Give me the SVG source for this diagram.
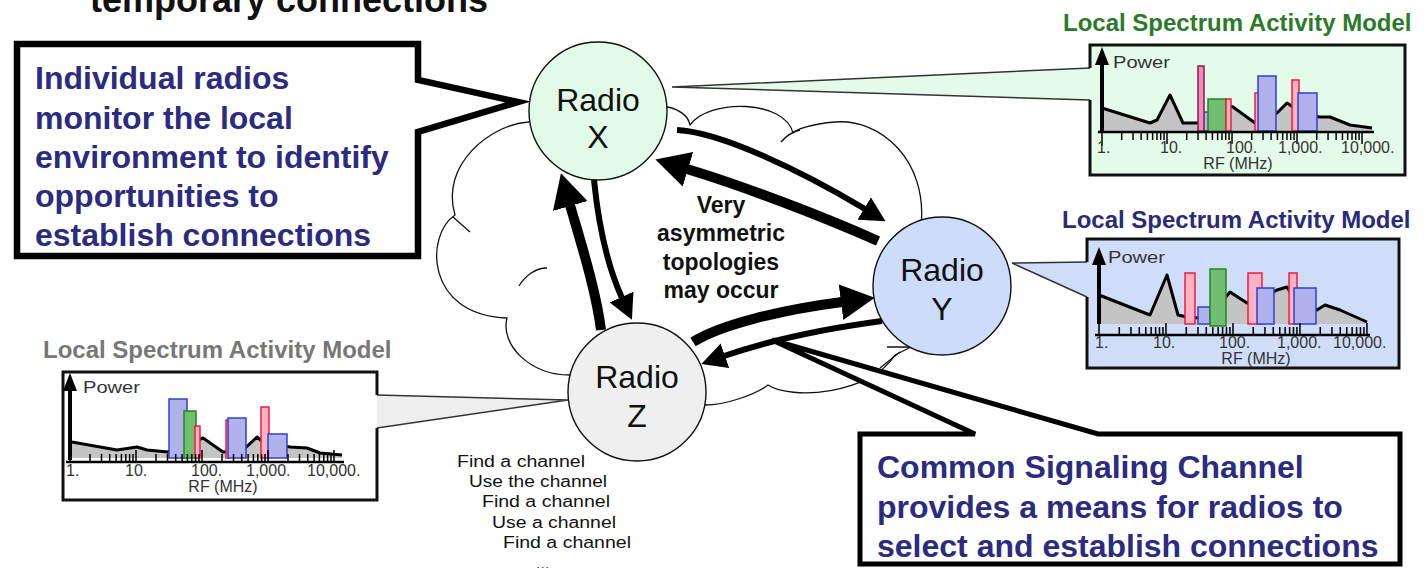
<svg xmlns="http://www.w3.org/2000/svg" xmlns:xlink="http://www.w3.org/1999/xlink" width="1427" height="568" viewBox="0 0 1427 568">
  <style>
    text { font-family: "Liberation Sans", Arial, sans-serif; }
    .title { font-size: 36px; font-weight: bold; fill: #111; }
    .callout-box { fill: #fff; stroke: #000; stroke-linejoin: miter; }
    .callout-text { font-size: 32px; font-weight: bold; fill: #2b2b80; }
    .node-label { font-size: 32px; fill: #111; text-anchor: middle; }
    .node-circle { stroke: #111; stroke-width: 1.4; }
    .cloud { fill: #fff; stroke: #111; stroke-width: 1.3; stroke-linejoin: round; }
    .hook { fill: none; stroke: #111; stroke-width: 1.3; }
    .note { font-size: 23px; font-weight: bold; fill: #111; text-anchor: middle; }
    .steps { font-size: 16px; fill: #111; }
    .panel-title { font-size: 24px; font-weight: bold; }
    .panel-border { fill: none; stroke: #111; stroke-width: 3; }
    .pointer { fill: none; stroke: #333; stroke-width: 1.5; }
    .spectrum { fill: #c4c4c4; stroke: none; }
    .spectrum-line { fill: none; stroke: #000; stroke-width: 3; stroke-linejoin: round; }
    .yaxis { stroke: #000; stroke-width: 4; }
    .xaxis { stroke: #000; stroke-width: 2.5; }
    .axis-label { font-size: 16px; fill: #333; }
    .rf { font-size: 16px; fill: #333; text-anchor: middle; }
    .power { font-size: 16px; fill: #333; }
    .bb { fill: #b1b1ec; stroke: #3040d0; stroke-width: 1.5; }
    .bg { fill: #72bd72; stroke: #1c8a1c; stroke-width: 1.5; }
    .br { fill: #ffb3c2; stroke: #f01c3c; stroke-width: 1.5; }
    .bp { fill: #f08cbc; stroke: #8a1a4a; stroke-width: 1.5; }
    .link-thick { fill: none; stroke: #000; stroke-width: 10; }
    .link-thin { fill: none; stroke: #000; stroke-width: 6; }
  </style>
  <defs>
    <!-- log-scale tick marks, one decade = 66 units -->
    <path id="ticks" fill="none" stroke="#000" stroke-width="1.5"
      d="M0,0v14M66,0v12M132,0v12M198,0v12M264,0v12
         M20,0v8M31.5,0v8M39.7,0v8M46.1,0v8M51.4,0v8M55.8,0v8M59.6,0v8M63,0v8
         M86,0v8M97.5,0v8M105.7,0v8M112.1,0v8M117.4,0v8M121.8,0v8M125.6,0v8M129,0v8
         M152,0v8M163.5,0v8M171.7,0v8M178.1,0v8M183.4,0v8M187.8,0v8M191.6,0v8M195,0v8
         M218,0v8M229.5,0v8M237.7,0v8M244.1,0v8M249.4,0v8M253.8,0v8M257.6,0v8M261,0v8"/>
    <marker id="head-big" markerUnits="userSpaceOnUse" viewBox="0 0 34 36" refX="1" refY="18" markerWidth="34" markerHeight="36" orient="auto">
      <path d="M0,0 L34,18 L0,36 Z" fill="#000"/>
    </marker>
    <marker id="head-small" markerUnits="userSpaceOnUse" viewBox="0 0 25 26" refX="1" refY="13" markerWidth="25" markerHeight="26" orient="auto">
      <path d="M0,0 L25,13 L0,26 Z" fill="#000"/>
    </marker>
  </defs>

  <rect width="1427" height="568" fill="#fff"/>

  <text class="title" x="90" y="12">temporary connections</text>

  <!-- signaling cloud behind the radios -->
  <g id="cloud">
    <path class="cloud" d="M528,122 C490,125 440,165 455,215 C425,235 425,315 507,318 C500,345 530,375 570,375 L640,395 L705,405 C725,405 755,395 768,385 C790,400 870,395 895,355 L915,345 L921,226 C928,160 880,118 835,122 C810,124 795,130 793,133 C785,100 710,98 690,125 C688,115 680,110 668,107 L600,110 Z"/>
    <path class="hook" d="M453,217 L470,232 M547,268 C535,268 525,276 519,286 M781,142 C786,136 792,132 800,130 M900,352 L880,368 M887,347 L923,347"/>
  </g>

  <!-- spectrum model attached to Radio X -->
  <g id="panel-x">
    <path d="M1090,45 H1405 V175 H1090 V100 L672,87 L1090,68 Z" fill="#e4fbe9"/>
    <path class="pointer" d="M1090,68 L672,87 L1090,100"/>
    <path class="panel-border" d="M1090,68 V45 H1405 V175 H1090 V100"/>
    <text class="panel-title" x="1063" y="31" fill="#2a7a2a">Local Spectrum Activity Model</text>
    <polygon class="spectrum" points="1102,108 1150,123 1157,120 1170,95 1183,123 1200,123 1215,110 1226,105 1233,107 1255,123 1265,115 1277,113 1287,103 1293,107 1305,115 1320,117 1330,117 1350,125 1372,128 1372,131 1102,131"/>
    <polyline class="spectrum-line" points="1102,108 1150,123 1157,120 1170,95 1183,123 1200,123 1215,110 1226,105 1233,107 1255,123 1265,115 1277,113 1287,103 1293,107 1305,115 1320,117 1330,117 1350,125 1372,128"/>
    <rect class="bb" x="1203" y="112" width="12" height="19"/>
    <rect class="bp" x="1198" y="66" width="6" height="65"/>
    <rect class="bg" x="1208" y="99" width="18" height="33"/>
    <rect class="br" x="1226" y="99" width="5" height="32"/>
    <rect class="br" x="1255" y="93" width="4" height="38"/>
    <rect class="bb" x="1258" y="76" width="18" height="55"/>
    <rect class="br" x="1292" y="80" width="7" height="51"/>
    <rect class="bb" x="1298" y="93" width="19" height="38"/>
    <line class="yaxis" x1="1102" y1="131" x2="1102" y2="62"/>
    <polygon points="1102,47 1095,65 1109,65" fill="#000"/>
    <line class="xaxis" x1="1098" y1="132" x2="1374" y2="132"/>
    <use xlink:href="#ticks" transform="translate(1102,132) scale(0.985,1)"/>
    <text class="power" x="1113" y="68" textLength="57" lengthAdjust="spacingAndGlyphs">Power</text>
    <text class="axis-label" x="1097" y="153">1.</text>
    <text class="axis-label" x="1160" y="153">10.</text>
    <text class="axis-label" x="1226" y="153">100.</text>
    <text class="axis-label" x="1278" y="153">1,000.</text>
    <text class="axis-label" x="1341" y="153">10,000.</text>
    <text class="rf" x="1238" y="169">RF (MHz)</text>
  </g>

  <!-- spectrum model attached to Radio Y -->
  <g id="panel-y">
    <path d="M1087,239 H1399 V368 H1087 V297 L1012,263 L1087,262 Z" fill="#d0ddf9"/>
    <path class="pointer" d="M1087,262 L1012,263 L1087,297"/>
    <path class="panel-border" d="M1087,262 V239 H1399 V368 H1087 V297"/>
    <text class="panel-title" x="1062" y="228" fill="#2a2a7a">Local Spectrum Activity Model</text>
    <polygon class="spectrum" points="1099,295 1150,315 1167,275 1178,315 1187,317 1200,318 1215,310 1230,292 1247,303 1260,300 1277,290 1287,287 1295,300 1310,305 1317,310 1325,305 1340,310 1367,322 1367,324 1099,324"/>
    <polyline class="spectrum-line" points="1099,295 1150,315 1167,275 1178,315 1187,317 1200,318 1215,310 1230,292 1247,303 1260,300 1277,290 1287,287 1295,300 1310,305 1317,310 1325,305 1340,310 1367,322"/>
    <rect class="br" x="1185" y="273" width="10" height="51"/>
    <rect class="bb" x="1198" y="307" width="12" height="17"/>
    <rect class="bg" x="1210" y="269" width="16" height="57"/>
    <rect class="br" x="1248" y="273" width="14" height="51"/>
    <rect class="bb" x="1257" y="288" width="17" height="36"/>
    <rect class="br" x="1289" y="273" width="8" height="51"/>
    <rect class="bb" x="1294" y="288" width="22" height="36"/>
    <line class="yaxis" x1="1099" y1="324" x2="1099" y2="262"/>
    <polygon points="1099,247 1092,265 1106,265" fill="#000"/>
    <line class="xaxis" x1="1095" y1="335" x2="1370" y2="335"/>
    <use xlink:href="#ticks" transform="translate(1099,335) scale(1.015,-1)"/>
    <text class="power" x="1108" y="263" textLength="57" lengthAdjust="spacingAndGlyphs">Power</text>
    <text class="axis-label" x="1095" y="348">1.</text>
    <text class="axis-label" x="1153" y="348">10.</text>
    <text class="axis-label" x="1219" y="348">100.</text>
    <text class="axis-label" x="1277" y="348">1,000.</text>
    <text class="axis-label" x="1333" y="348">10,000.</text>
    <text class="rf" x="1256" y="364">RF (MHz)</text>
  </g>

  <!-- spectrum model attached to Radio Z -->
  <g id="panel-z">
    <rect x="63" y="372" width="314" height="128" fill="#fff"/>
    <polygon points="377,395 568,400 377,428" fill="#eeeeee"/>
    <path class="pointer" d="M377,395 L568,400 L377,428"/>
    <path class="panel-border" d="M377,395 V372 H63 V500 H377 V428"/>
    <text class="panel-title" x="43" y="358" fill="#777">Local Spectrum Activity Model</text>
    <polygon class="spectrum" points="72,442 117,450 137,447 147,450 168,452 185,445 203,438 223,452 243,450 257,437 263,442 290,447 307,448 320,453 342,455 342,458 72,458"/>
    <polyline class="spectrum-line" points="72,442 117,450 137,447 147,450 168,452 185,445 203,438 223,452 243,450 257,437 263,442 290,447 307,448 320,453 342,455"/>
    <rect class="bb" x="169" y="399" width="18" height="59"/>
    <rect class="bg" x="184" y="411" width="12" height="47"/>
    <rect class="br" x="195" y="426" width="5" height="32"/>
    <rect class="br" x="226" y="420" width="3" height="38"/>
    <rect class="bb" x="228" y="418" width="18" height="40"/>
    <rect class="br" x="261" y="407" width="8" height="51"/>
    <rect class="bb" x="268" y="434" width="19" height="24"/>
    <line class="yaxis" x1="70" y1="460" x2="70" y2="388"/>
    <polygon points="70,373 63,391 77,391" fill="#000"/>
    <line class="xaxis" x1="66" y1="462" x2="344" y2="462"/>
    <use xlink:href="#ticks" transform="translate(70,462) scale(1,-1)"/>
    <text class="power" x="83" y="393" textLength="57" lengthAdjust="spacingAndGlyphs">Power</text>
    <text class="axis-label" x="66" y="476">1.</text>
    <text class="axis-label" x="125" y="476">10.</text>
    <text class="axis-label" x="191" y="476">100.</text>
    <text class="axis-label" x="246" y="476">1,000.</text>
    <text class="axis-label" x="307" y="476">10,000.</text>
    <text class="rf" x="223" y="492">RF (MHz)</text>
  </g>

  <!-- radios -->
  <g id="radio-x">
    <circle class="node-circle" cx="598" cy="111" r="69" fill="#e2fae8"/>
    <text class="node-label" x="598" y="111">Radio</text>
    <text class="node-label" x="598" y="148">X</text>
  </g>
  <g id="radio-y">
    <circle class="node-circle" cx="942" cy="286" r="69" fill="#cddcfa"/>
    <text class="node-label" x="942" y="281">Radio</text>
    <text class="node-label" x="942" y="320">Y</text>
  </g>
  <g id="radio-z">
    <circle class="node-circle" cx="637" cy="392" r="69" fill="#efefef"/>
    <text class="node-label" x="637" y="388">Radio</text>
    <text class="node-label" x="637" y="427">Z</text>
  </g>

  <!-- links between radios -->
  <g id="connectors">
    <path class="link-thin" d="M677,130 C720,132 800,170 865,209" marker-end="url(#head-small)"/>
    <path class="link-thick" d="M878,241 C820,215 740,185 687,169" marker-end="url(#head-big)"/>
    <path class="link-thin" d="M594,180 C598,220 607,265 622,298" marker-end="url(#head-small)"/>
    <path class="link-thick" d="M601,330 C596,290 580,240 570,205" marker-end="url(#head-big)"/>
    <path class="link-thick" d="M693,342 C720,325 780,310 842,302" marker-end="url(#head-big)"/>
    <path class="link-thin" d="M882,321 C830,328 770,340 724,356" marker-end="url(#head-small)"/>
  </g>

  <g id="note">
    <text class="note" x="721" y="213">Very</text>
    <text class="note" x="721" y="241">asymmetric</text>
    <text class="note" x="721" y="270">topologies</text>
    <text class="note" x="721" y="298">may occur</text>
  </g>

  <g id="cycle">
    <text class="steps" x="457" y="467" textLength="128" lengthAdjust="spacingAndGlyphs">Find a channel</text>
    <text class="steps" x="469" y="487" textLength="138" lengthAdjust="spacingAndGlyphs">Use the channel</text>
    <text class="steps" x="482" y="507" textLength="128" lengthAdjust="spacingAndGlyphs">Find a channel</text>
    <text class="steps" x="492" y="528" textLength="124" lengthAdjust="spacingAndGlyphs">Use a channel</text>
    <text class="steps" x="503" y="548" textLength="128" lengthAdjust="spacingAndGlyphs">Find a channel</text>
    <text class="steps" x="536" y="569">...</text>
  </g>

  <!-- callouts -->
  <g id="callout-monitor">
    <path class="callout-box" stroke-width="6.5" d="M17,44 H418 V80 L518,102 L418,132 V256 H17 Z"/>
    <text class="callout-text" x="35" y="89">Individual radios</text>
    <text class="callout-text" x="35" y="129">monitor the local</text>
    <text class="callout-text" x="35" y="168">environment to identify</text>
    <text class="callout-text" x="35" y="207">opportunities to</text>
    <text class="callout-text" x="35" y="246">establish connections</text>
  </g>
  <g id="callout-signaling">
    <path class="callout-box" stroke-width="5" d="M860,434 H975 L772,340 L1098,434 H1400 V564 H860 Z"/>
    <text class="callout-text" x="877" y="478">Common Signaling Channel</text>
    <text class="callout-text" x="877" y="518">provides a means for radios to</text>
    <text class="callout-text" x="877" y="557">select and establish connections</text>
  </g>
</svg>
